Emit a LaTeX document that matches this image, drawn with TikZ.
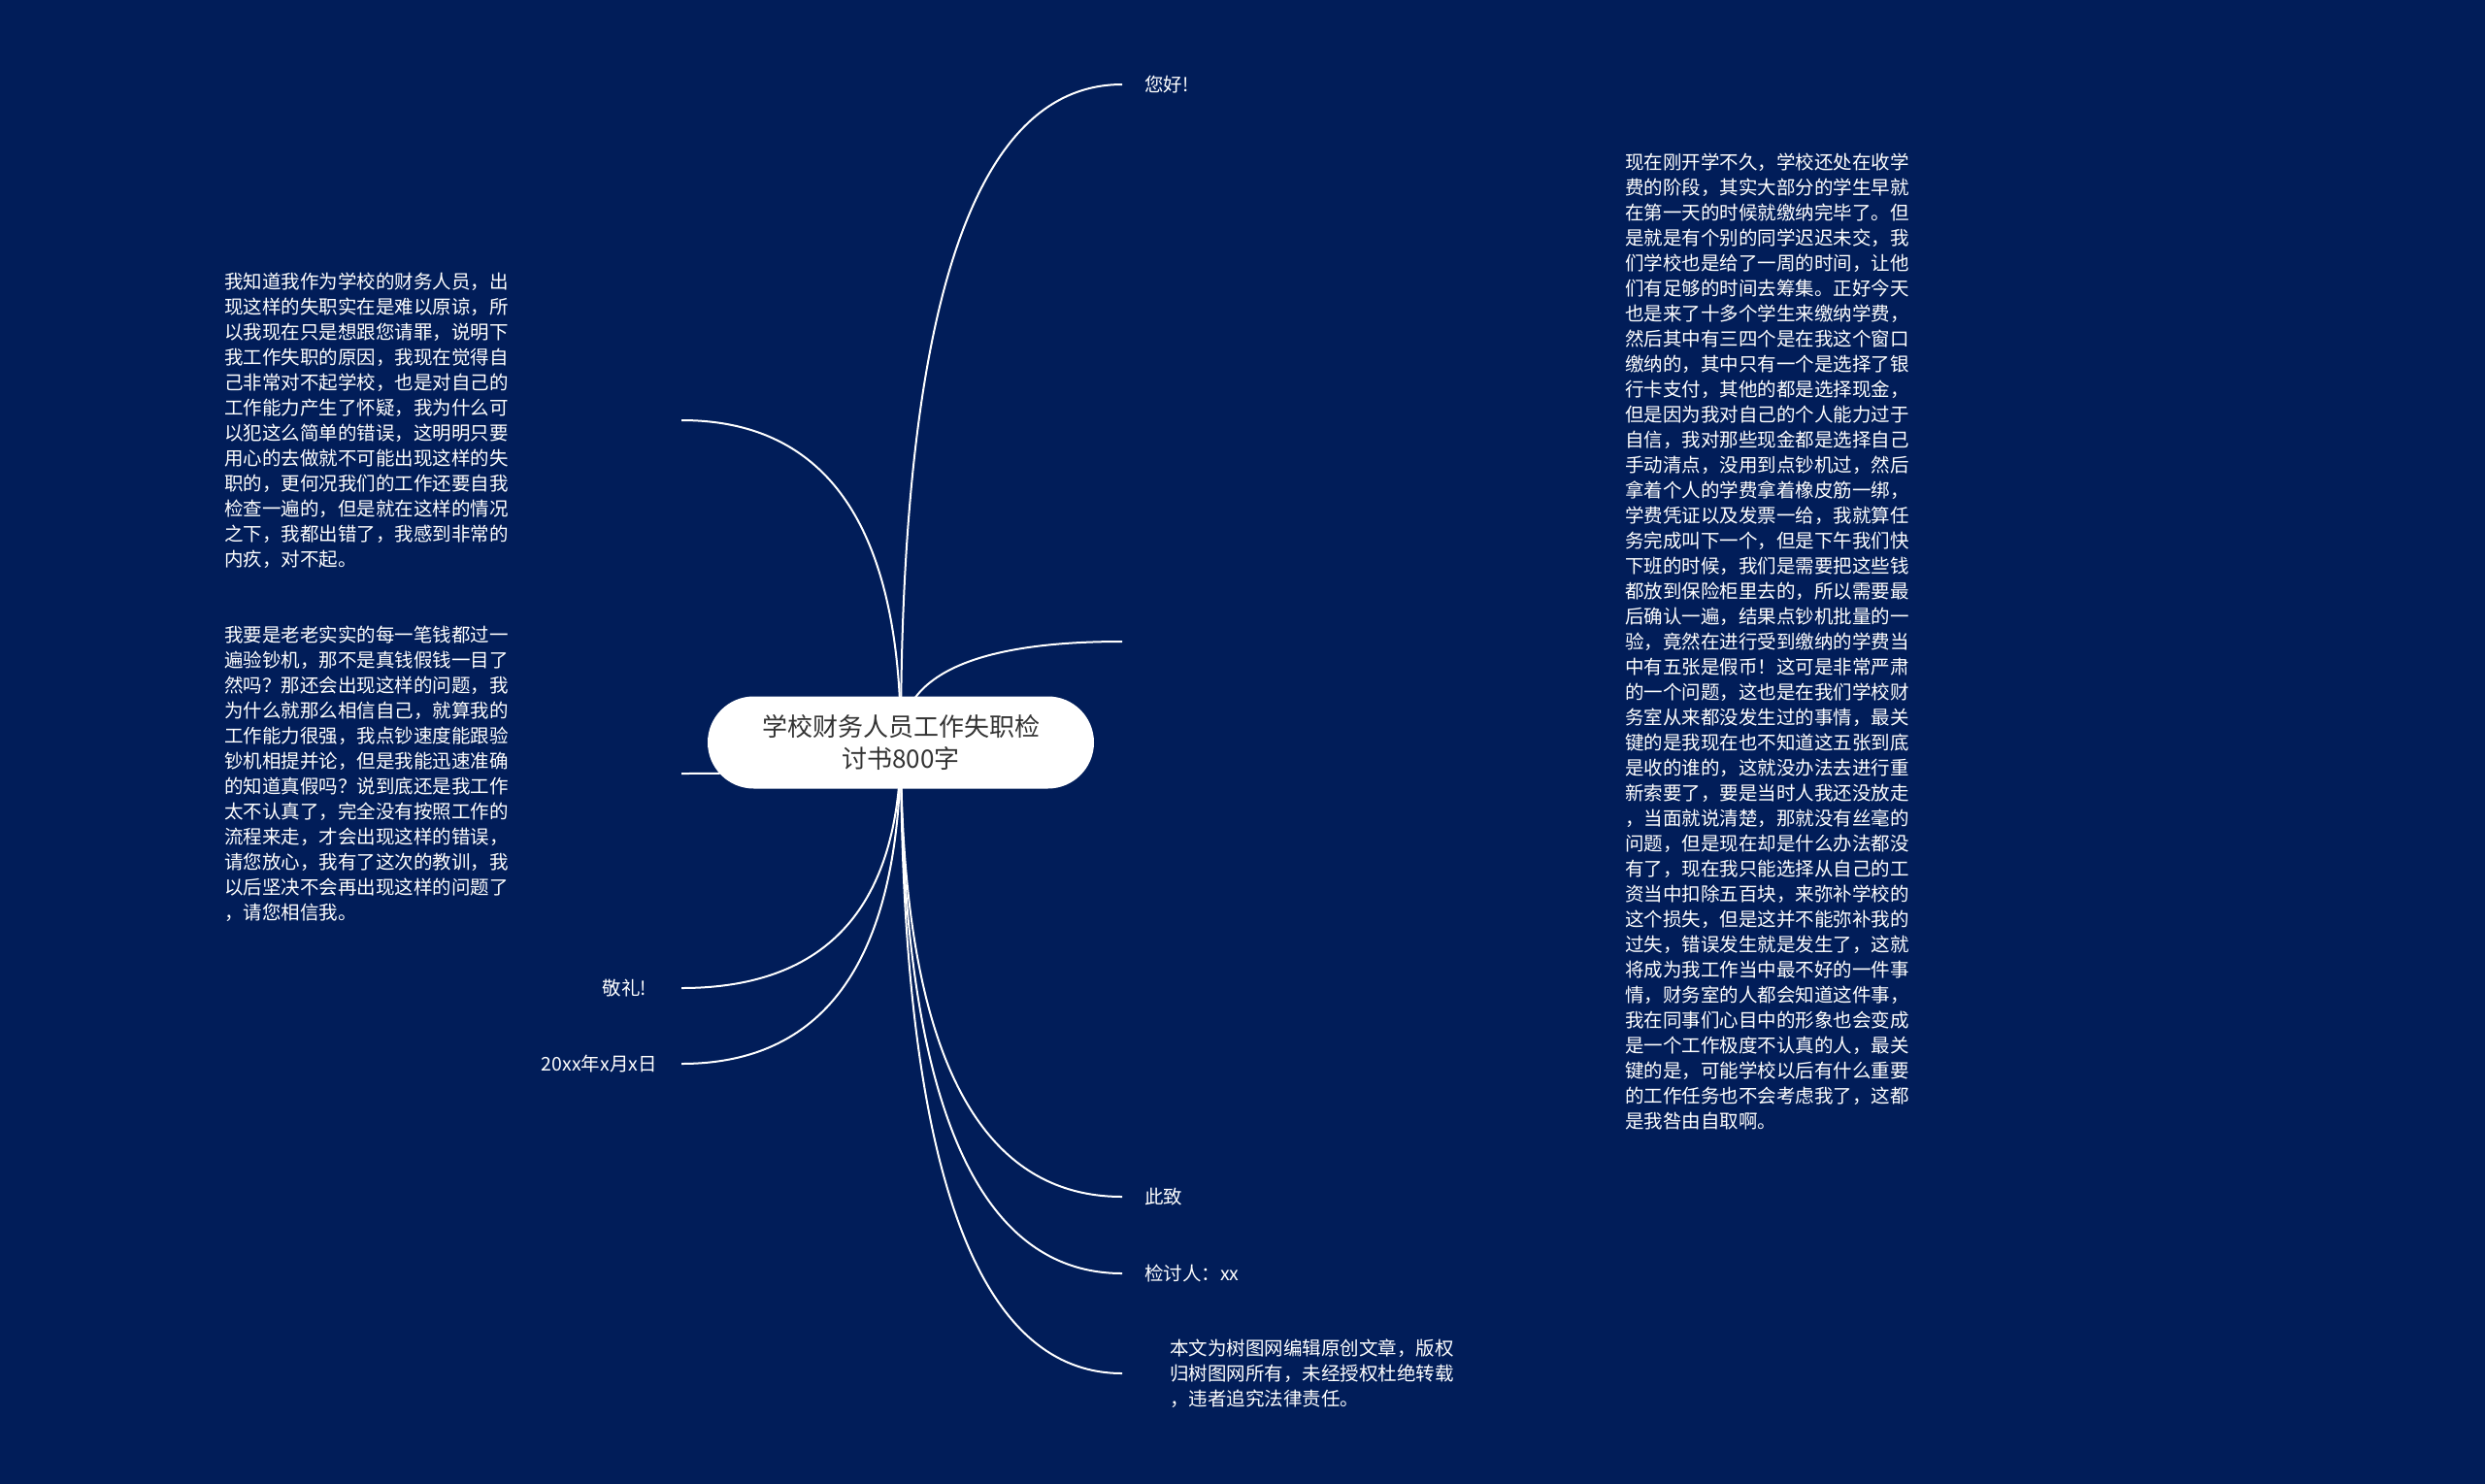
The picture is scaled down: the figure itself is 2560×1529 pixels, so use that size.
\documentclass[tikz,border=0pt]{standalone}
\usepackage{fontspec}
\setmainfont{Noto Sans CJK SC}
\usepackage{tikz}
\usetikzlibrary{%
	calc,%
	positioning,%
	backgrounds,%
}
\tikzset{
	nodes={align=center},%
	rootnode/.style={%
			fill=white,%
			rectangle,%
			rounded corners=47.5pt,%
			minimum width=398pt,%
			minimum height=95pt,%
			text=croottext,%
			font={\fontsize{26}{33}\selectfont}},%
	leafnode/.style={%
			inner sep=0pt,%
			text=white,%
			font={\fontsize{19.5}{26}\selectfont}},%
	textnode/.style={%
			leafnode,%
			align=left},%
	branch/.style={%
			draw=white,%
			line width=2pt},%
}
\definecolor{cnavy}{RGB}{1, 29, 89}
\definecolor{croottext}{RGB}{51, 51, 51}

\begin{document}
\begin{tikzpicture}[x=1pt, y=-1pt]
	\node[rootnode] (root) at (928,765) {学校财务人员工作失职检\\讨书800字};

	\coordinate (tipHello) at (1156,87);
	\coordinate (tipLoss) at (1156,661);
	\coordinate (tipRegards) at (1156,1233);
	\coordinate (tipSigner) at (1156,1312);
	\coordinate (tipNote) at (1156,1415);
	\coordinate (tipSorry) at (702,433);
	\coordinate (tipCareless) at (702,797);
	\coordinate (tipSalute) at (702,1018);
	\coordinate (tipDate) at (702,1096);

	\node[leafnode] (hello) [right=23pt of tipHello] {您好!};
	\node[textnode] (loss) [right=518pt of tipLoss] {现在刚开学不久，学校还处在收学\\费的阶段，其实大部分的学生早就\\在第一天的时候就缴纳完毕了。但\\是就是有个别的同学迟迟未交，我\\们学校也是给了一周的时间，让他\\们有足够的时间去筹集。正好今天\\也是来了十多个学生来缴纳学费，\\然后其中有三四个是在我这个窗口\\缴纳的，其中只有一个是选择了银\\行卡支付，其他的都是选择现金，\\但是因为我对自己的个人能力过于\\自信，我对那些现金都是选择自己\\手动清点，没用到点钞机过，然后\\拿着个人的学费拿着橡皮筋一绑，\\学费凭证以及发票一给，我就算任\\务完成叫下一个，但是下午我们快\\下班的时候，我们是需要把这些钱\\都放到保险柜里去的，所以需要最\\后确认一遍，结果点钞机批量的一\\验，竟然在进行受到缴纳的学费当\\中有五张是假币！这可是非常严肃\\的一个问题，这也是在我们学校财\\务室从来都没发生过的事情，最关\\键的是我现在也不知道这五张到底\\是收的谁的，这就没办法去进行重\\新索要了，要是当时人我还没放走\\，当面就说清楚，那就没有丝毫的\\问题，但是现在却是什么办法都没\\有了，现在我只能选择从自己的工\\资当中扣除五百块，来弥补学校的\\这个损失，但是这并不能弥补我的\\过失，错误发生就是发生了，这就\\将成为我工作当中最不好的一件事\\情，财务室的人都会知道这件事，\\我在同事们心目中的形象也会变成\\是一个工作极度不认真的人，最关\\键的是，可能学校以后有什么重要\\的工作任务也不会考虑我了，这都\\是我咎由自取啊。};
	\node[leafnode] (regards) [right=23pt of tipRegards] {此致};
	\node[leafnode] (signer) [right=23pt of tipSigner] {检讨人：xx};
	\node[textnode] (note) [right=49pt of tipNote] {本文为树图网编辑原创文章，版权\\归树图网所有，未经授权杜绝转载\\，违者追究法律责任。};
	\node[textnode] (sorry) [left=178pt of tipSorry] {我知道我作为学校的财务人员，出\\现这样的失职实在是难以原谅，所\\以我现在只是想跟您请罪，说明下\\我工作失职的原因，我现在觉得自\\己非常对不起学校，也是对自己的\\工作能力产生了怀疑，我为什么可\\以犯这么简单的错误，这明明只要\\用心的去做就不可能出现这样的失\\职的，更何况我们的工作还要自我\\检查一遍的，但是就在这样的情况\\之下，我都出错了，我感到非常的\\内疚，对不起。};
	\node[textnode] (careless) [left=178pt of tipCareless] {我要是老老实实的每一笔钱都过一\\遍验钞机，那不是真钱假钱一目了\\然吗？那还会出现这样的问题，我\\为什么就那么相信自己，就算我的\\工作能力很强，我点钞速度能跟验\\钞机相提并论，但是我能迅速准确\\的知道真假吗？说到底还是我工作\\太不认真了，完全没有按照工作的\\流程来走，才会出现这样的错误，\\请您放心，我有了这次的教训，我\\以后坚决不会再出现这样的问题了\\，请您相信我。};
	\node[leafnode] (salute) [left=36pt of tipSalute] {敬礼!};
	\node[leafnode] (date) [left=25pt of tipDate] {20xx年x月x日};

	\begin{scope}[on background layer]
		\fill[cnavy] (0,0) rectangle (2560,1529);
		% quadratic curve from the root centre, bent at (root |- tip)
		\foreach \tip in {tipHello, tipLoss, tipRegards, tipSigner, tipNote, tipSorry, tipCareless, tipSalute, tipDate}
			\draw[branch] (root.center) .. controls ($(root.center)!2/3!(root.center |- \tip)$) and ($(\tip)!2/3!(root.center |- \tip)$) .. (\tip);
	\end{scope}
\end{tikzpicture}
\end{document}
